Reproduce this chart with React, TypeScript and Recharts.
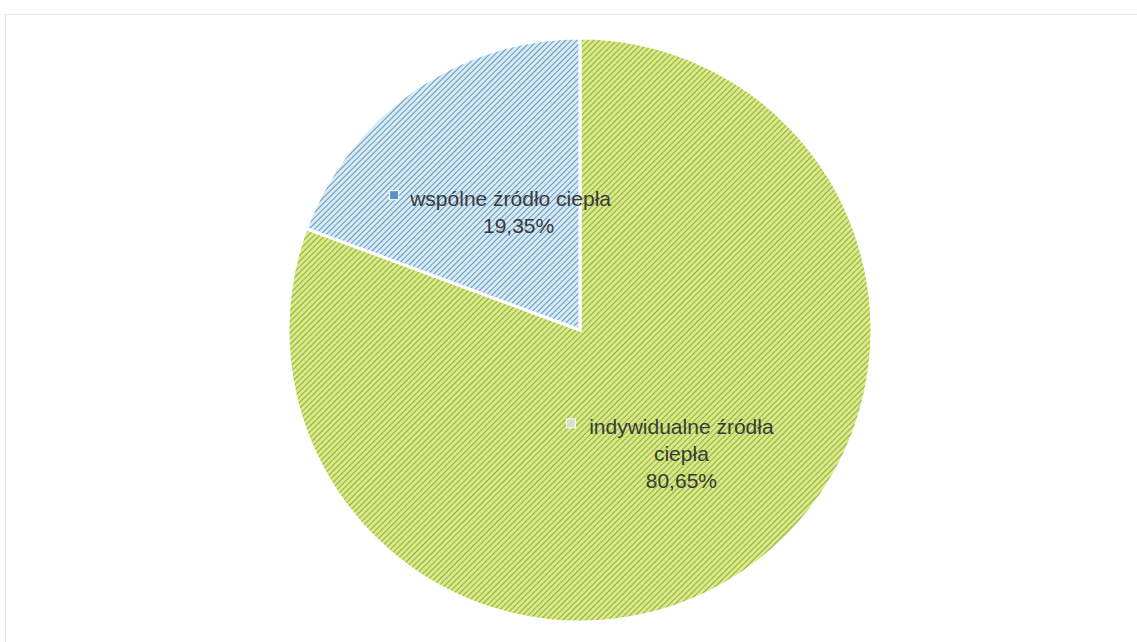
import { PieChart, Pie, Cell } from "recharts"

const categories = ["indywidualne źródła ciepła", "wspólne źródło ciepła"]
const values = [80.65, 19.35]
const labelLines = [["indywidualne źródła", "ciepła", "80,65%"], ["wspólne źródło ciepła", "19,35%"]]
const markerColors = ["#d9dfc8", "#5b8fc4"]
const fills = ["url(#hatchGreen)", "url(#hatchBlue)"]

const data = categories.map((name, i) => ({ name, value: values[i] }))

const RAD = Math.PI / 180

function SliceLabel(props: any) {
  const { cx, cy, midAngle, outerRadius, index } = props
  const r = outerRadius * 0.5
  const x = cx + r * Math.cos(-midAngle * RAD) + (index === 0 ? 18 : 14)
  const y = cy + r * Math.sin(-midAngle * RAD) + (index === 0 ? 11 : 9)
  const lines = labelLines[index]
  const lh = 27
  const top = y - ((lines.length - 1) * lh) / 2
  const firstW = index === 0 ? 194 : 206
  return (
    <g>
      <rect x={x - firstW / 2 - 18} y={top - 15} width={9} height={9} fill={markerColors[index]} stroke="#ffffff" strokeWidth={1} />
      {lines.map((t, i) => (
        <text
          key={i}
          x={x + (i === 0 ? 0 : index === 1 ? 8 : 0)}
          y={top + i * lh}
          textAnchor="middle"
          fill="#3a3a3a"
          fontSize={21}
          fontFamily="Liberation Sans, Arial, sans-serif"
        >
          {t}
        </text>
      ))}
    </g>
  )
}

export default function App() {
  return (
    <div style={{ position: "absolute", left: 0, top: 0, width: 1137, height: 642, background: "#fff", overflow: "hidden" }}>
      <div style={{ position: "absolute", left: 5, top: 14, width: 1140, height: 640, borderLeft: "1px solid #e2e2e2", borderTop: "1px solid #e6e6e6" }} />
      <PieChart width={1137} height={642} margin={{ top: 0, right: 0, bottom: 0, left: 0 }} style={{ position: "absolute", left: 0, top: 0 }}>
        <defs>
          <pattern id="hatchGreen" patternUnits="userSpaceOnUse" width={4} height={4} patternTransform="rotate(45)">
            <rect width={4} height={4} fill="#d8ec78" />
            <line x1={0} y1={0} x2={0} y2={4} stroke="#8c9c6c" strokeWidth={1.8} />
          </pattern>
          <pattern id="hatchBlue" patternUnits="userSpaceOnUse" width={4} height={4} patternTransform="rotate(45)">
            <rect width={4} height={4} fill="#d6ebf8" />
            <line x1={0} y1={0} x2={0} y2={4} stroke="#5f8db2" strokeWidth={1.8} />
          </pattern>
        </defs>
        <Pie
          data={data}
          dataKey="value"
          nameKey="name"
          cx={580}
          cy={330}
          outerRadius={292}
          startAngle={90}
          endAngle={-270}
          stroke="#ffffff"
          strokeWidth={3}
          label={SliceLabel}
          labelLine={false}
          isAnimationActive={false}
        >
          {data.map((d, i) => (
            <Cell key={d.name} fill={fills[i]} />
          ))}
        </Pie>
      </PieChart>
    </div>
  )
}
